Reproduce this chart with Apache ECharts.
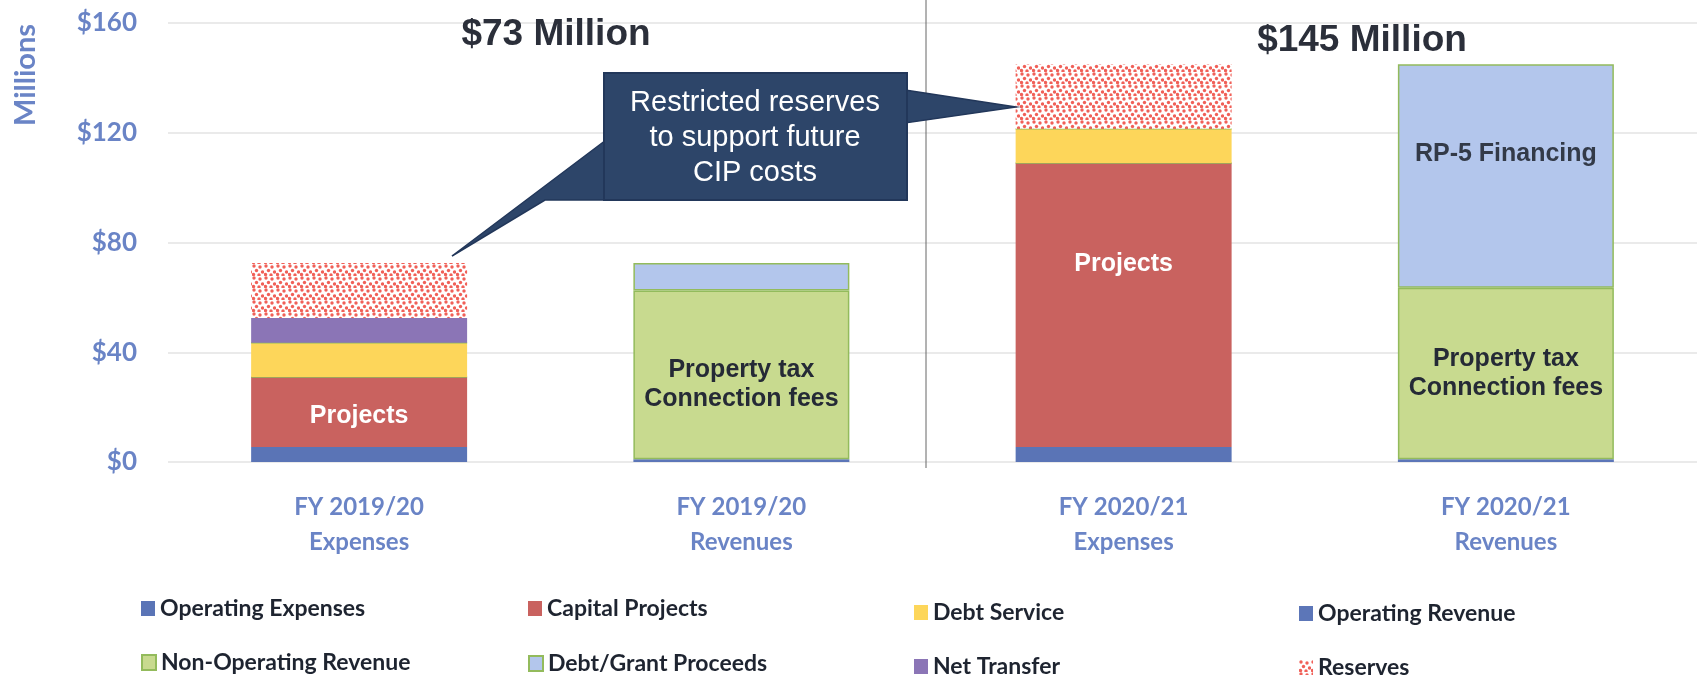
<!DOCTYPE html>
<html><head><meta charset="utf-8">
<script src="https://cdn.jsdelivr.net/npm/echarts@6/dist/echarts.min.js"></script>
<style>html,body{margin:0;padding:0;background:#fff}#c{width:1697px;height:681px}</style>
</head><body><div id="c"></div>
<script>
const categories = ['FY 2019/20\nExpenses', 'FY 2019/20\nRevenues', 'FY 2020/21\nExpenses', 'FY 2020/21\nRevenues'];
const operatingExpenses = [5.5, 0, 5.5, 0];
const capitalProjects = [25.5, 0, 103.5, 0];
const debtService = [12.5, 0, 12.5, 0];
const netTransfer = [9, 0, 0, 0];
const reserves = [20, 0, 23.5, 0];
const operatingRevenue = [0, 1, 0, 1];
const nonOperatingRevenue = [0, 61.5, 0, 62.5];
const debtGrantProceeds = [0, 10, 0, 81.5];
const yTicks = [0, 40, 80, 120, 160];
const titles = ['$73 Million', '$145 Million'];
const calloutText = 'Restricted reserves\nto support future\nCIP costs';

// dotted pattern for reserves
const pc = document.createElement('canvas');
pc.width = 12; pc.height = 12;
const g = pc.getContext('2d');
g.fillStyle = '#ffffff'; g.fillRect(0, 0, 12, 12);
g.fillStyle = '#f06058';
[[2,2],[8,3],[4.5,6.5],[10.5,8],[1.5,10.5],[7,11]].forEach(p => { g.beginPath(); g.arc(p[0], p[1], 1.7, 0, Math.PI*2); g.fill(); });
const dotPattern = { image: pc, repeat: 'repeat' };

const blue = '#6a84c6';
const labelFont = '"Liberation Sans", Arial, sans-serif';
const lato = 'Lato, "Noto Sans", sans-serif';

function mk(name, data, color, extra) {
  return Object.assign({
    name: name, type: 'bar', stack: 'total', barWidth: '56.5%',
    data: data, itemStyle: { color: color }
  }, extra || {});
}

const capData = capitalProjects.map((v, i) => {
  if (i === 0) return { value: v, label: { show: true, position: 'inside', offset: [0, 4] } };
  if (i === 2) return { value: v, label: { show: true, position: 'insideTop', distance: 89 } };
  return v;
});
const nonOpData = nonOperatingRevenue.map((v, i) => {
  if (i === 1) return { value: v, label: { show: true, position: 'inside', offset: [0, 10] } };
  if (i === 3) return { value: v, label: { show: true, position: 'inside' } };
  return v;
});
const dgData = debtGrantProceeds.map((v, i) => {
  if (i === 3) return { value: v, label: { show: true, position: 'insideTop', distance: 77 } };
  return v;
});

const series = [
  mk('Operating Expenses', operatingExpenses, '#5a74b6'),
  mk('Operating Revenue', operatingRevenue, '#5c76b8'),
  mk('Capital Projects', capData, '#c9625f', { label: { show: false, formatter: 'Projects', color: '#ffffff', fontSize: 25, fontWeight: 'bold', fontFamily: labelFont } }),
  mk('Non-Operating Revenue', nonOpData, '#c8da8f', { itemStyle: { color: '#c8da8f', borderColor: '#93bb5c', borderWidth: 1.5 }, label: { show: false, formatter: 'Property tax\nConnection fees', color: '#252a36', fontSize: 25, fontWeight: 'bold', lineHeight: 29, fontFamily: labelFont } }),
  mk('Debt Service', debtService, '#fdd65a'),
  mk('Debt/Grant Proceeds', dgData, '#b3c6ec', { itemStyle: { color: '#b3c6ec', borderColor: '#93bb5c', borderWidth: 1.5 }, label: { show: false, formatter: 'RP-5 Financing', color: '#333a48', fontSize: 25, fontWeight: 'bold', fontFamily: labelFont } }),
  mk('Net Transfer', netTransfer, '#8b75b6'),
  mk('Reserves', reserves, dotPattern)
];

const legendItems = [
  ['Operating Expenses', 141, 597], ['Capital Projects', 528, 597], ['Debt Service', 914, 601], ['Operating Revenue', 1299, 602],
  ['Non-Operating Revenue', 141, 651], ['Debt/Grant Proceeds', 528, 652], ['Net Transfer', 914, 655], ['Reserves', 1299, 656]
];
const legends = legendItems.map(it => ({
  data: [it[0]], left: it[1], top: it[2], padding: 0, itemWidth: 14, itemHeight: 15, icon: 'rect',
  selectedMode: false,
  textStyle: { fontFamily: lato, fontWeight: 'bold', fontSize: 23, color: '#1e2430' }
}));

const chart = echarts.init(document.getElementById('c'));
chart.setOption({
  animation: false,
  grid: { left: 168, right: -6, top: 23, bottom: 219 },
  legend: legends,
  xAxis: {
    type: 'category', data: categories,
    axisLine: { show: false }, axisTick: { show: false },
    axisLabel: { color: blue, fontFamily: lato, fontWeight: 'bold', fontSize: 24, lineHeight: 35, margin: 28 }
  },
  yAxis: {
    type: 'value', min: yTicks[0], max: yTicks[yTicks.length - 1], interval: yTicks[1] - yTicks[0],
    axisLine: { show: false }, axisTick: { show: false },
    splitLine: { lineStyle: { color: '#e3e3e3', width: 1.5 } },
    axisLabel: { formatter: '${value}', color: blue, fontFamily: lato, fontWeight: 'bold', fontSize: 26, margin: 31 }
  },
  series: series,
  graphic: [
    { type: 'text', z: 100, x: 26, y: 75, rotation: Math.PI / 2, style: { text: 'Millions', fill: blue, font: 'bold 29px Lato', textAlign: 'center', textVerticalAlign: 'middle' } },
    { type: 'line', z: 100, shape: { x1: 926, y1: 0, x2: 926, y2: 468 }, style: { stroke: '#666', lineWidth: 1 } },
    { type: 'text', z: 100, x: 556, y: 35, style: { text: titles[0], fill: '#2b2f3a', font: 'bold 37px "Liberation Sans"', textAlign: 'center', textVerticalAlign: 'middle' } },
    { type: 'text', z: 100, x: 1362, y: 41, style: { text: titles[1], fill: '#2b2f3a', font: 'bold 37px "Liberation Sans"', textAlign: 'center', textVerticalAlign: 'middle' } },
    { type: 'polygon', z: 100, shape: { points: [[606, 140], [452, 256], [545, 200], [606, 200]] }, style: { fill: '#2d4569', stroke: '#22375a', lineWidth: 1.5 } },
    { type: 'polygon', z: 100, shape: { points: [[905, 90], [1016, 107], [905, 123]] }, style: { fill: '#2d4569', stroke: '#22375a', lineWidth: 1.5 } },
    { type: 'rect', z: 101, shape: { x: 604, y: 73, width: 303, height: 127 }, style: { fill: '#2d4569', stroke: '#22375a', lineWidth: 2 } },
    { type: 'text', z: 102, x: 755, y: 138, style: { text: calloutText, fill: '#ffffff', font: '29px "Liberation Sans"', lineHeight: 35, textAlign: 'center', textVerticalAlign: 'middle' } }
  ]
});
</script></body></html>
